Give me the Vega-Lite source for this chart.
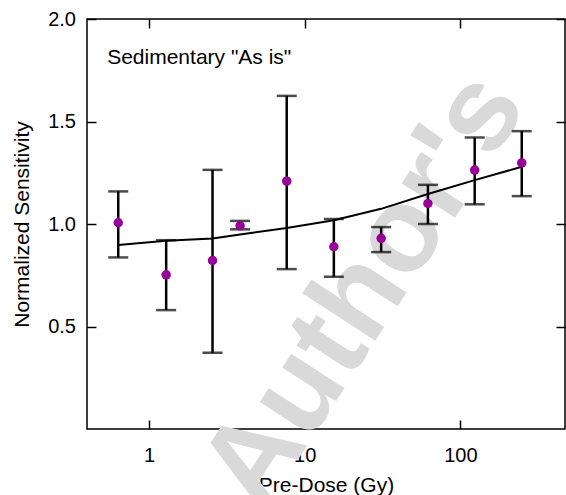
{
  "$schema": "https://vega.github.io/schema/vega-lite/v6.json",
  "width": 478,
  "height": 410,
  "autosize": "none",
  "padding": {"left": 87, "top": 19, "right": 1, "bottom": 66},
  "background": "white",
  "config": {
    "font": "Liberation Sans",
    "view": {"stroke": "black", "strokeWidth": 1.5},
    "axis": {
      "grid": false,
      "domain": false,
      "zindex": 1,
      "labelFont": "Liberation Sans",
      "titleFont": "Liberation Sans",
      "labelFontSize": 20,
      "titleFontSize": 21,
      "titleFontWeight": "normal",
      "labelColor": "black",
      "titleColor": "black",
      "tickColor": "black",
      "tickWidth": 1.5,
      "tickSize": -9
    }
  },
  "datasets": {
    "pts": [
      {"dose": 0.635, "sens": 1.006, "lo": 0.837, "hi": 1.159},
      {"dose": 1.29, "sens": 0.752, "lo": 0.580, "hi": 0.921},
      {"dose": 2.56, "sens": 0.822, "lo": 0.372, "hi": 1.264},
      {"dose": 3.85, "sens": 0.991, "lo": 0.974, "hi": 1.015},
      {"dose": 7.67, "sens": 1.209, "lo": 0.780, "hi": 1.625},
      {"dose": 15.4, "sens": 0.889, "lo": 0.743, "hi": 1.024},
      {"dose": 31.0, "sens": 0.930, "lo": 0.863, "hi": 0.985},
      {"dose": 61.9, "sens": 1.100, "lo": 1.000, "hi": 1.191},
      {"dose": 123.6, "sens": 1.263, "lo": 1.096, "hi": 1.422},
      {"dose": 247.9, "sens": 1.298, "lo": 1.136, "hi": 1.453}
    ],
    "fit": [
      {"dose": 0.635, "fit": 0.897},
      {"dose": 1.29, "fit": 0.918},
      {"dose": 2.56, "fit": 0.929},
      {"dose": 3.85, "fit": 0.949},
      {"dose": 7.67, "fit": 0.980},
      {"dose": 15.4, "fit": 1.018},
      {"dose": 31.0, "fit": 1.074},
      {"dose": 61.9, "fit": 1.146},
      {"dose": 123.6, "fit": 1.214},
      {"dose": 247.9, "fit": 1.279}
    ],
    "labels": [
      {"dose": 0.539, "val": 1.78, "label": "Sedimentary \"As is\""}
    ],
    "wm": [
      {"dose": 24.3, "val": 0.673, "label": "Author's"}
    ]
  },
  "resolve": {"axis": {"x": "independent", "y": "independent"}},
  "layer": [
    {
      "data": {"name": "wm"},
      "mark": {"type": "text", "angle": -57, "fontSize": 120, "fontWeight": "bold", "color": "#d9d9d9", "align": "center", "baseline": "middle", "font": "Liberation Sans"},
      "encoding": {
        "x": {"field": "dose", "type": "quantitative", "scale": {"type": "log", "domain": [0.4, 470], "nice": false}, "axis": null},
        "y": {"field": "val", "type": "quantitative", "scale": {"domain": [0, 2], "nice": false}, "axis": null},
        "text": {"field": "label"}
      }
    },
    {
      "data": {"name": "fit"},
      "mark": {"type": "line", "color": "black", "strokeWidth": 2},
      "encoding": {
        "x": {"field": "dose", "type": "quantitative", "scale": {"type": "log", "domain": [0.4, 470], "nice": false},
          "axis": {"orient": "bottom", "values": [1, 10, 100], "format": ".0f", "title": "Pre-Dose (Gy)", "labelPadding": 25.5, "titlePadding": 9}},
        "y": {"field": "fit", "type": "quantitative", "scale": {"domain": [0, 2], "nice": false},
          "axis": {"orient": "left", "values": [0.5, 1, 1.5, 2], "format": ".1f", "title": "Normalized Sensitivity", "labelPadding": 20.5, "titlePadding": 15}}
      }
    },
    {
      "data": {"name": "pts"},
      "mark": {"type": "rule", "color": "black", "strokeWidth": 2.5},
      "encoding": {
        "x": {"field": "dose", "type": "quantitative", "scale": {"type": "log", "domain": [0.4, 470], "nice": false},
          "axis": {"orient": "top", "values": [1, 10, 100], "labels": false, "title": null}},
        "y": {"field": "lo", "type": "quantitative", "scale": {"domain": [0, 2], "nice": false},
          "axis": {"orient": "right", "values": [0.5, 1, 1.5, 2], "labels": false, "title": null}},
        "y2": {"field": "hi"}
      }
    },
    {
      "data": {"name": "pts"},
      "mark": {"type": "tick", "orient": "horizontal", "color": "black", "size": 20, "thickness": 2.5},
      "encoding": {
        "x": {"field": "dose", "type": "quantitative", "scale": {"type": "log", "domain": [0.4, 470], "nice": false}, "axis": null},
        "y": {"field": "lo", "type": "quantitative", "scale": {"domain": [0, 2], "nice": false}, "axis": null}
      }
    },
    {
      "data": {"name": "pts"},
      "mark": {"type": "tick", "orient": "horizontal", "color": "black", "size": 20, "thickness": 2.5},
      "encoding": {
        "x": {"field": "dose", "type": "quantitative", "scale": {"type": "log", "domain": [0.4, 470], "nice": false}, "axis": null},
        "y": {"field": "hi", "type": "quantitative", "scale": {"domain": [0, 2], "nice": false}, "axis": null}
      }
    },
    {
      "data": {"name": "pts"},
      "mark": {"type": "point", "filled": true, "shape": "circle", "size": 90, "color": "#990099", "opacity": 1},
      "encoding": {
        "x": {"field": "dose", "type": "quantitative", "scale": {"type": "log", "domain": [0.4, 470], "nice": false}, "axis": null},
        "y": {"field": "sens", "type": "quantitative", "scale": {"domain": [0, 2], "nice": false}, "axis": null}
      }
    },
    {
      "data": {"name": "labels"},
      "mark": {"type": "text", "align": "left", "baseline": "alphabetic", "fontSize": 21, "color": "black", "font": "Liberation Sans"},
      "encoding": {
        "x": {"field": "dose", "type": "quantitative", "scale": {"type": "log", "domain": [0.4, 470], "nice": false}, "axis": null},
        "y": {"field": "val", "type": "quantitative", "scale": {"domain": [0, 2], "nice": false}, "axis": null},
        "text": {"field": "label"}
      }
    }
  ]
}
